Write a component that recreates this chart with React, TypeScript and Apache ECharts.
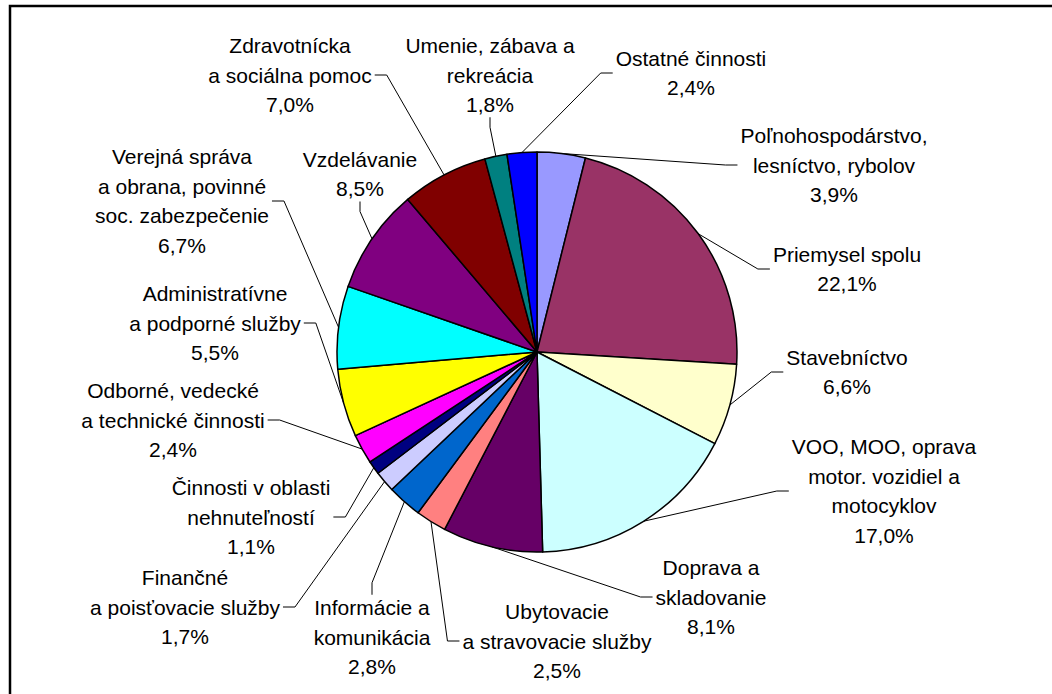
import React, { useEffect, useRef } from 'react';
import * as echarts from 'echarts';

// ---- data ----
const categories = [
  'Poľnohospodárstvo,\nlesníctvo, rybolov',
  'Priemysel spolu',
  'Stavebníctvo',
  'VOO, MOO, oprava\nmotor. vozidiel a\nmotocyklov',
  'Doprava a\nskladovanie',
  'Ubytovacie\na stravovacie služby',
  'Informácie a\nkomunikácia',
  'Finančné\na poisťovacie služby',
  'Činnosti v oblasti\nnehnuteľností',
  'Odborné, vedecké\na technické činnosti',
  'Administratívne\na podporné služby',
  'Verejná správa\na obrana, povinné\nsoc. zabezpečenie',
  'Vzdelávanie',
  'Zdravotnícka\na sociálna pomoc',
  'Umenie, zábava a\nrekreácia',
  'Ostatné činnosti',
];
const shares = [3.9, 22.1, 6.6, 17.0, 8.1, 2.5, 2.8, 1.7, 1.1, 2.4, 5.5, 6.7, 8.5, 7.0, 1.8, 2.4];

// ---- styles / layout ----
const sliceColors = [
  '#9999FF', '#993366', '#FFFFCC', '#CCFFFF', '#660066', '#FF8080', '#0066CC', '#CCCCFF',
  '#000080', '#FF00FF', '#FFFF00', '#00FFFF', '#800080', '#800000', '#008080', '#0000FF',
];
const labelCenters: number[][] = [
  [834, 165], [847, 269], [847, 372], [884, 491], [711, 597], [557, 641], [372, 637], [185, 607],
  [251, 517], [173, 420], [215, 323], [182, 201], [360, 174], [290, 75], [490, 75], [691, 73],
];
const labelSides = [
  'left', 'left', 'left', 'left', 'left', 'left', 'top', 'right',
  'right', 'right', 'right', 'right', 'bottom', 'right', 'bottom', 'left',
];
const PIE_CX = 537;
const PIE_CY = 352;
const PIE_R = 200;
const FONT = '"Liberation Sans", Arial, Helvetica, sans-serif';

const total = shares.reduce((a, b) => a + b, 0);
function arcPoint(i: number): number[] {
  let before = 0;
  for (let k = 0; k < i; k++) before += shares[k];
  const mid = ((before + shares[i] / 2) / total) * 2 * Math.PI;
  return [PIE_CX + PIE_R * Math.sin(mid), PIE_CY - PIE_R * Math.cos(mid)];
}
const fmt = (v: number) => v.toFixed(1).replace('.', ',') + '%';

export default function App() {
  const ref = useRef<HTMLDivElement>(null);
  useEffect(() => {
    if (!ref.current) return;
    const chart = echarts.init(ref.current, undefined, { renderer: 'svg' });
    chart.setOption({
      animation: false,
      backgroundColor: '#ffffff',
      graphic: [
        {
          type: 'rect',
          shape: { x: 10, y: 6, width: 1100, height: 800 },
          style: { fill: 'none', stroke: '#000', lineWidth: 2.5 },
          silent: true,
          z: 10,
        },
      ],
      series: [
        {
          type: 'pie',
          center: [PIE_CX, PIE_CY],
          radius: PIE_R,
          startAngle: 90,
          clockwise: true,
          avoidLabelOverlap: false,
          minShowLabelAngle: 0,
          data: categories.map((name, i) => ({
            name,
            value: shares[i],
            itemStyle: { color: sliceColors[i] },
          })),
          itemStyle: { borderColor: '#000', borderWidth: 1.5 },
          emphasis: { disabled: true },
          label: {
            show: true,
            position: 'outside',
            color: '#000',
            fontFamily: FONT,
            fontSize: 21,
            lineHeight: 29.5,
            align: 'center',
            overflow: 'none',
            formatter: (p: any) => `${p.name}\n${fmt(p.value)}`,
          },
          labelLine: {
            show: true,
            length: 15,
            length2: 12,
            smooth: false,
            lineStyle: { color: '#000', width: 1 },
          },
          labelLayout: (params: any) => {
            const i = params.dataIndex;
            const [cx, cy] = labelCenters[i];
            const w = params.labelRect.width;
            const h = params.labelRect.height;
            const side = labelSides[i];
            const start =
              params.labelLinePoints && params.labelLinePoints[0]
                ? params.labelLinePoints[0]
                : arcPoint(i);
            let end: number[];
            let elbow: number[];
            if (side === 'left') {
              end = [cx - w / 2 - 3, cy];
              elbow = [end[0] - 12, cy];
            } else if (side === 'right') {
              end = [cx + w / 2 + 3, cy];
              elbow = [end[0] + 12, cy];
            } else if (side === 'top') {
              end = [cx, cy - h / 2 + 2];
              elbow = [cx, end[1] - 12];
            } else {
              end = [cx, cy + h / 2 - 2];
              elbow = [cx, end[1] + 10];
            }
            return {
              x: cx,
              y: cy,
              align: 'center',
              verticalAlign: 'middle',
              labelLinePoints: [start, elbow, end],
            };
          },
        },
      ],
    });
    return () => chart.dispose();
  }, []);
  return (
    <div
      ref={ref}
      style={{ position: 'absolute', left: 0, top: 0, width: 1052, height: 694, background: '#fff' }}
    />
  );
}
